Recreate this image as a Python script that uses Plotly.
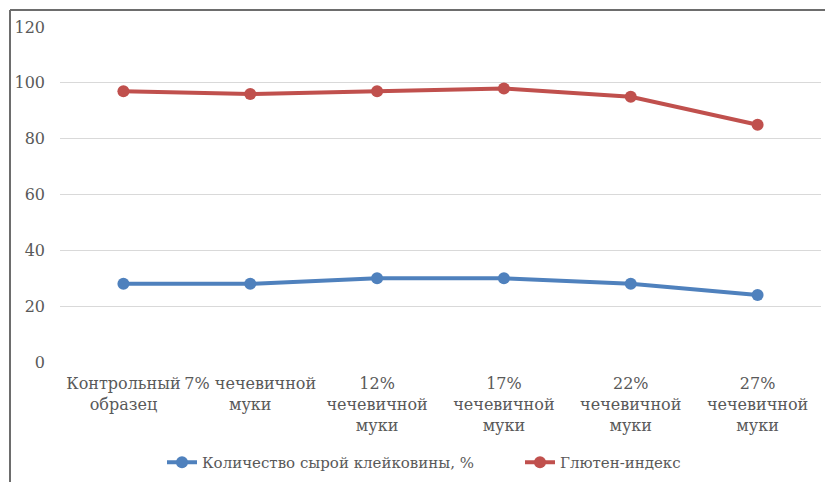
import plotly.graph_objects as go

categories = ["Контрольный<br>образец", "7% чечевичной<br>муки", "12%<br>чечевичной<br>муки",
              "17%<br>чечевичной<br>муки", "22%<br>чечевичной<br>муки", "27%<br>чечевичной<br>муки"]
gluten_amount = [28, 28, 30, 30, 28, 24]
gluten_index = [97, 96, 97, 98, 95, 85]
series_names = ["Количество сырой клейковины, %", "Глютен-индекс"]
y_ticks = [0, 20, 40, 60, 80, 100, 120]

FONT = "DejaVu Serif"
x = list(range(len(categories)))

fig = go.Figure()
fig.add_trace(go.Scatter(x=x, y=gluten_amount, name=series_names[0], mode="lines+markers",
                         line=dict(color="#4f81bd", width=4), marker=dict(size=12, color="#4f81bd")))
fig.add_trace(go.Scatter(x=x, y=gluten_index, name=series_names[1], mode="lines+markers",
                         line=dict(color="#c0504d", width=4), marker=dict(size=12, color="#c0504d")))

# page body has an 8px margin
OFF = 8
W, H = 833 - OFF, 482 - OFF
L, R, T, B = 60 - OFF, 12, 27 - OFF, 120
pw, ph = W - L - R, H - T - B
bx = (10 - OFF - L) / pw
by = 1 + (T - (10 - OFF)) / ph
leg_x = (162 - OFF - L) / pw

fig.update_layout(
    width=W, height=H,
    margin=dict(l=L, r=R, t=T, b=B, autoexpand=False),
    paper_bgcolor="white", plot_bgcolor="white",
    font=dict(family=FONT, size=15, color="#595959"),
    showlegend=True,
    legend=dict(orientation="h", x=leg_x, xanchor="left", y=-0.30, yanchor="middle",
                font=dict(family=FONT, size=15, color="#595959"),
                entrywidth=313, entrywidthmode="pixels"),
    xaxis=dict(range=[-0.5, len(categories) - 0.5], tickmode="array", tickvals=x, ticktext=categories,
               showgrid=False, zeroline=False, showline=False, ticks="", tickangle=0,
               ticklabelstandoff=10,
               tickfont=dict(family=FONT, size=16, color="#595959")),
    yaxis=dict(range=[0, 120], tickmode="array", tickvals=y_ticks, showgrid=True, gridcolor="#d9d9d9",
               gridwidth=1, zeroline=False, showline=False, ticks="", ticklabelstandoff=14,
               tickfont=dict(family=FONT, size=16, color="#595959")),
    shapes=[
        dict(type="line", xref="paper", yref="paper", x0=bx, x1=bx, y0=-1, y1=by,
             line=dict(color="#6d6d6d", width=2)),
        dict(type="line", xref="paper", yref="paper", x0=bx, x1=2, y0=by, y1=by,
             line=dict(color="#6d6d6d", width=2)),
    ],
)
fig.write_html("out.html")
